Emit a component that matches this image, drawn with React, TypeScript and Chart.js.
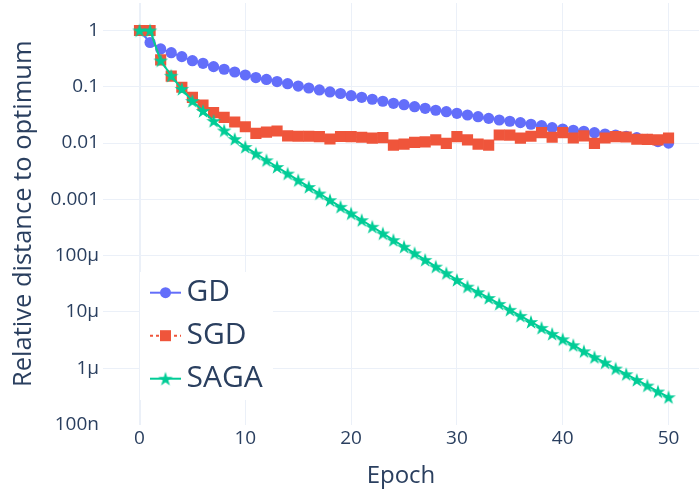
import React, { useEffect, useRef } from 'react';
import { Chart, registerables } from 'chart.js';

Chart.register(...registerables);

// Epoch index for every recorded iterate
const epochs = [
  0, 1, 2, 3, 4, 5, 6, 7, 8, 9, 10, 11, 12, 13, 14, 15, 16, 17, 18, 19, 20,
  21, 22, 23, 24, 25, 26, 27, 28, 29, 30, 31, 32, 33, 34, 35, 36, 37, 38, 39, 40,
  41, 42, 43, 44, 45, 46, 47, 48, 49, 50,
];

// Relative distance to the optimum, per method
const gdValues = [
  1, 0.612, 0.47, 0.403, 0.343, 0.291, 0.261, 0.228, 0.205, 0.183, 0.162,
  0.146, 0.135, 0.124, 0.1135, 0.103, 0.0952, 0.0878, 0.0809, 0.076, 0.0695,
  0.0651, 0.06, 0.0553, 0.0509, 0.0481, 0.0443, 0.0415, 0.0383, 0.0361, 0.0338,
  0.0315, 0.0294, 0.0275, 0.0257, 0.0244, 0.0231, 0.0216, 0.0204, 0.0188, 0.0178,
  0.0169, 0.0162, 0.0153, 0.0145, 0.0139, 0.0132, 0.0125, 0.0117, 0.0106, 0.01,
];

const sgdValues = [
  1, 1, 0.3, 0.155, 0.098, 0.065, 0.0475, 0.0347, 0.0287, 0.0237, 0.0195,
  0.0149, 0.0156, 0.0164, 0.0134, 0.0132, 0.0132, 0.013, 0.0118, 0.0131, 0.013,
  0.0127, 0.0122, 0.0125, 0.0092, 0.0096, 0.0103, 0.0105, 0.0114, 0.0099, 0.013,
  0.0114, 0.0096, 0.0092, 0.0139, 0.0138, 0.0122, 0.0132, 0.0153, 0.0127, 0.0153,
  0.0123, 0.0134, 0.0099, 0.0123, 0.013, 0.0128, 0.0117, 0.0116, 0.0114, 0.0123,
];

const sagaValues = [
  1, 1, 0.293, 0.157, 0.0914, 0.056, 0.0372, 0.0247, 0.0167, 0.0118, 0.00853,
  0.00648, 0.00495, 0.00376, 0.00287, 0.00218, 0.00166, 0.00127, 0.000968, 0.000736, 0.000562,
  0.000427, 0.000326, 0.000248, 0.000189, 0.000144, 0.00011, 8.39e-5, 6.38e-5, 4.87e-5, 3.7e-5,
  2.81e-5, 2.24e-5, 1.77e-5, 1.39e-5, 1.09e-5, 8.49e-6, 6.64e-6, 5.2e-6, 4.07e-6, 3.27e-6,
  2.56e-6, 2.0e-6, 1.57e-6, 1.26e-6, 9.84e-7, 7.82e-7, 6.19e-7, 4.91e-7, 3.85e-7, 3.05e-7,
];

const seriesNames = ['GD', 'SGD', 'SAGA'];

// Axis ticks
const xTickValues = [0, 10, 20, 30, 40, 50];
const yTickValues = [1, 0.1, 0.01, 0.001, 1e-4, 1e-5, 1e-6, 1e-7];
const yTickLabels = ['1', '0.1', '0.01', '0.001', '100µ', '10µ', '1µ', '100n'];

const FONT = "'Open Sans', 'Noto Sans', sans-serif";
const TEXT = '#2a3f5f';
const GRID = '#ebf0f8';
const GD_COLOR = '#636efa';
const SGD_COLOR = '#ef553b';
const SAGA_COLOR = '#00cc96';

function makeStar(color: string): HTMLCanvasElement {
  const c = document.createElement('canvas');
  c.width = 18;
  c.height = 18;
  const g = c.getContext('2d')!;
  const outer = 7.6;
  const inner = 2.9;
  g.fillStyle = color;
  g.beginPath();
  for (let k = 0; k < 10; k++) {
    const r = k % 2 === 0 ? outer : inner;
    const a = -Math.PI / 2 + (k * Math.PI) / 5;
    const px = 9 + r * Math.cos(a);
    const py = 9.7 + r * Math.sin(a);
    if (k === 0) g.moveTo(px, py);
    else g.lineTo(px, py);
  }
  g.closePath();
  g.fill();
  return c;
}

function toPoints(values: number[]) {
  return values.map((y, i) => ({ x: epochs[i], y }));
}

function legendPlugin(star: HTMLCanvasElement) {
  return {
    id: 'traceLegend',
    afterDraw(chart: any) {
      const ctx = chart.ctx as CanvasRenderingContext2D;
      const area = chart.chartArea;
      const boxX = area.left + 37;
      const boxY = area.top + 269;
      ctx.save();
      ctx.fillStyle = '#ffffff';
      ctx.fillRect(boxX, boxY, 133, 128);
      chart.data.datasets.forEach((ds: any, i: number) => {
        const cy = boxY + 20.7 + i * 43;
        const x0 = boxX + 10;
        const x1 = boxX + 41;
        const mx = (x0 + x1) / 2;
        ctx.strokeStyle = ds.borderColor;
        ctx.lineWidth = 2;
        ctx.setLineDash(ds.borderDash || []);
        ctx.beginPath();
        ctx.moveTo(x0, cy);
        ctx.lineTo(x1, cy);
        ctx.stroke();
        ctx.setLineDash([]);
        ctx.fillStyle = ds.borderColor;
        if (ds.pointStyle === 'circle') {
          ctx.beginPath();
          ctx.arc(mx, cy, 5.5, 0, Math.PI * 2);
          ctx.fill();
        } else if (ds.pointStyle === 'rect') {
          ctx.fillRect(mx - 5.5, cy - 5.5, 11, 11);
        } else {
          ctx.drawImage(star, mx - 9, cy - 9);
        }
        ctx.fillStyle = TEXT;
        ctx.font = `30px ${FONT}`;
        ctx.textAlign = 'left';
        ctx.textBaseline = 'middle';
        ctx.fillText(ds.label, boxX + 46.5, cy - 0.5);
      });
      ctx.restore();
    },
  };
}

export default function App() {
  const canvasRef = useRef<HTMLCanvasElement>(null);

  useEffect(() => {
    const canvas = canvasRef.current;
    if (!canvas) return;
    const star = makeStar(SAGA_COLOR);

    const chart = new Chart(canvas, {
      type: 'line',
      data: {
        datasets: [
          {
            label: seriesNames[0],
            data: toPoints(gdValues),
            borderColor: GD_COLOR,
            backgroundColor: GD_COLOR,
            borderWidth: 2,
            pointStyle: 'circle',
            pointRadius: 5.6,
            pointBorderWidth: 0,
            tension: 0,
            order: 3,
          },
          {
            label: seriesNames[1],
            data: toPoints(sgdValues),
            borderColor: SGD_COLOR,
            backgroundColor: SGD_COLOR,
            borderWidth: 2,
            borderDash: [3, 3],
            pointStyle: 'rect',
            pointRadius: 7.9,
            pointBorderWidth: 0,
            tension: 0,
            order: 2,
          },
          {
            label: seriesNames[2],
            data: toPoints(sagaValues),
            borderColor: SAGA_COLOR,
            backgroundColor: SAGA_COLOR,
            borderWidth: 2,
            pointStyle: star as any,
            pointRadius: 7.6,
            pointBorderWidth: 0,
            tension: 0,
            order: 1,
          },
        ],
      },
      options: {
        responsive: false,
        animation: false,
        devicePixelRatio: 1,
        events: [],
        layout: { padding: { top: 3, left: 0, right: 0, bottom: 0 }, autoPadding: false },
        plugins: {
          legend: { display: false },
          tooltip: { enabled: false },
        },
        scales: {
          x: {
            type: 'linear',
            min: -3.45,
            max: 52.88,
            bounds: 'data',
            afterBuildTicks: (s: any) => {
              s.ticks = xTickValues.map((v) => ({ value: v }));
            },
            afterFit: (s: any) => {
              s.height = 70.5;
              s.paddingLeft = 0;
              s.paddingRight = 0;
            },
            ticks: {
              padding: 3,
              color: TEXT,
              font: { family: FONT, size: 19 },
              autoSkip: false,
              maxRotation: 0,
              callback: (v: any) => String(v),
            },
            grid: {
              color: GRID,
              lineWidth: (c: any) => (c.tick && c.tick.value === 0 ? 2 : 1),
              drawTicks: false,
            },
            border: { display: false },
            title: {
              display: true,
              text: 'Epoch',
              color: TEXT,
              font: { family: FONT, size: 24 },
              padding: { top: 0, bottom: 4 },
            },
          },
          y: {
            type: 'logarithmic',
            min: 1e-7,
            max: 3.08,
            bounds: 'data',
            afterBuildTicks: (s: any) => {
              s.ticks = yTickValues.map((v) => ({ value: v }));
            },
            afterFit: (s: any) => {
              s.width = 103;
              s.paddingTop = 0;
              s.paddingBottom = 0;
            },
            ticks: {
              padding: 4,
              color: TEXT,
              font: { family: FONT, size: 19 },
              autoSkip: false,
              callback: (v: any) => {
                const idx = yTickValues.findIndex(
                  (t) => Math.abs(Math.log10(t) - Math.log10(Number(v))) < 1e-6
                );
                return idx >= 0 ? yTickLabels[idx] : '';
              },
            },
            grid: {
              color: (c: any) => (c.tick && c.tick.value < 2e-7 ? 'rgba(0,0,0,0)' : GRID),
              lineWidth: 1,
              drawTicks: false,
            },
            border: { display: false },
            title: {
              display: true,
              text: 'Relative distance to optimum',
              color: TEXT,
              font: { family: FONT, size: 25.5 },
              padding: { top: 8, bottom: 0 },
            },
          },
        },
      } as any,
      plugins: [legendPlugin(star)],
    });

    return () => chart.destroy();
  }, []);

  return (
    <div style={{ position: 'absolute', left: 0, top: 0, width: 699, height: 495, background: '#ffffff' }}>
      <canvas ref={canvasRef} width={699} height={495} style={{ display: 'block' }} />
    </div>
  );
}
